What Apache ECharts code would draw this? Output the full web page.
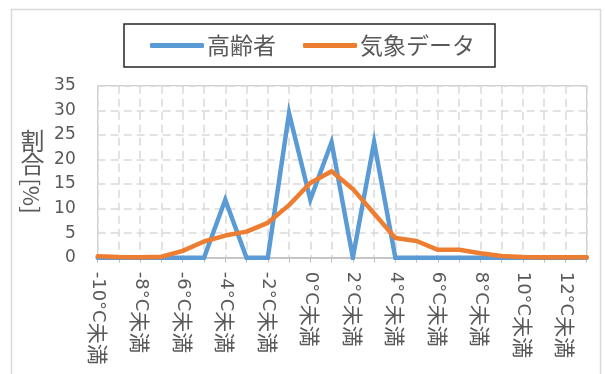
<!DOCTYPE html>
<html>
<head>
<meta charset="utf-8">
<script src="https://cdn.jsdelivr.net/npm/echarts@6/dist/echarts.min.js"></script>
<style>
  html, body { margin: 0; padding: 0; background: #fff; }
  #chart { width: 605px; height: 374px; }
</style>
</head>
<body>
<div id="chart"></div>
<script>
// Temperature bins (upper bound of each bin)
const categories = [
  '-10°C未満', '-9°C未満', '-8°C未満', '-7°C未満', '-6°C未満', '-5°C未満',
  '-4°C未満', '-3°C未満', '-2°C未満', '-1°C未満', '0°C未満', '1°C未満',
  '2°C未満', '3°C未満', '4°C未満', '5°C未満', '6°C未満', '7°C未満',
  '8°C未満', '9°C未満', '10°C未満', '11°C未満', '12°C未満', '13°C未満'
];
// Share of cases among elderly people [%]
const elderly = [0, 0, 0, 0, 0, 0, 11.8, 0, 0, 29.4, 11.8, 23.5, 0, 23.5, 0, 0, 0, 0, 0, 0, 0, 0, 0, 0];
// Share of hours in the weather observations [%]
const weather = [0.3, 0.15, 0.1, 0.2, 1.4, 3.3, 4.5, 5.3, 7.1, 10.7, 15.2, 17.6, 14.0, 9.0, 4.0, 3.4, 1.6, 1.6, 0.9, 0.35, 0.15, 0.1, 0.1, 0.1];
const seriesNames = ['高齢者', '気象データ'];
const yTicks = { min: 0, max: 35, step: 5 };

const CJK = '"Noto Sans CJK JP", sans-serif';
const NUM = '"DejaVu Sans", "Noto Sans CJK JP", sans-serif';
const TXT = '#595959';
const GRID = '#d9d9d9';

const chart = echarts.init(document.getElementById('chart'), null, { renderer: 'canvas' });
chart.setOption({
  animation: false,
  backgroundColor: '#fff',
  textStyle: { fontFamily: CJK, color: TXT },
  graphic: [
    {
      type: 'rect', z: -10, silent: true,
      shape: { x: 11.5, y: 9.5, width: 589, height: 380 },
      style: { fill: '#fff', stroke: '#d9d9d9', lineWidth: 1.5 }
    },
    {
      type: 'text', x: 32.5, y: 141, silent: true,
      style: { text: '割', font: '24px ' + CJK, fill: TXT, align: 'center', verticalAlign: 'middle' }
    },
    {
      type: 'text', x: 32.5, y: 164, silent: true,
      style: { text: '合', font: '24px ' + CJK, fill: TXT, align: 'center', verticalAlign: 'middle' }
    },
    {
      type: 'text', x: 31.5, y: 196, rotation: -Math.PI / 2, silent: true,
      style: { text: '[%]', font: '22px ' + CJK, fill: TXT, align: 'center', verticalAlign: 'middle' }
    }
  ],
  legend: {
    left: 124, top: 24,
    padding: [10, 20, 10, 26],
    borderColor: '#262626', borderWidth: 1.5,
    itemWidth: 54, itemHeight: 5, itemGap: 27,
    icon: 'roundRect',
    textStyle: { fontSize: 23, color: TXT, fontFamily: CJK, padding: [0, 0, 0, -2] },
    data: seriesNames
  },
  grid: {
    left: 97.7, right: 18.3, top: 85.7, bottom: 116.3,
    show: true, borderColor: '#bfbfbf', borderWidth: 1
  },
  xAxis: {
    type: 'category',
    boundaryGap: false,
    data: categories,
    axisLine: { lineStyle: { color: '#bfbfbf', width: 1.5 } },
    axisTick: { show: true, interval: 0, length: 5, lineStyle: { color: '#bfbfbf' } },
    axisLabel: {
      interval: 1, rotate: -90, margin: 14,
      color: TXT,
      formatter: function (v) {
        return '{a|' + v.replace('未満', '') + '}{b|未満}';
      },
      rich: {
        a: { fontFamily: NUM, fontSize: 18, color: TXT },
        b: { fontFamily: CJK, fontSize: 21, color: TXT }
      }
    },
    splitLine: { show: true, interval: 0, lineStyle: { color: GRID, type: [8, 5], width: 1.5 } }
  },
  yAxis: {
    type: 'value',
    min: yTicks.min, max: yTicks.max, interval: yTicks.step,
    axisLine: { show: false },
    axisTick: { show: false },
    axisLabel: { fontSize: 17, color: TXT, margin: 22, fontFamily: NUM },
    splitLine: { show: true, lineStyle: { color: GRID, type: [8, 5], width: 1.5 } }
  },
  series: [
    {
      name: seriesNames[0], type: 'line', data: elderly,
      symbol: 'none', z: 3,
      lineStyle: { color: '#5B9BD5', width: 4.5, join: 'miter', cap: 'round' },
      itemStyle: { color: '#5B9BD5' }
    },
    {
      name: seriesNames[1], type: 'line', data: weather,
      symbol: 'none', z: 4,
      lineStyle: { color: '#ED7D31', width: 4.5, join: 'round', cap: 'round' },
      itemStyle: { color: '#ED7D31' }
    }
  ]
});
</script>
</body>
</html>
